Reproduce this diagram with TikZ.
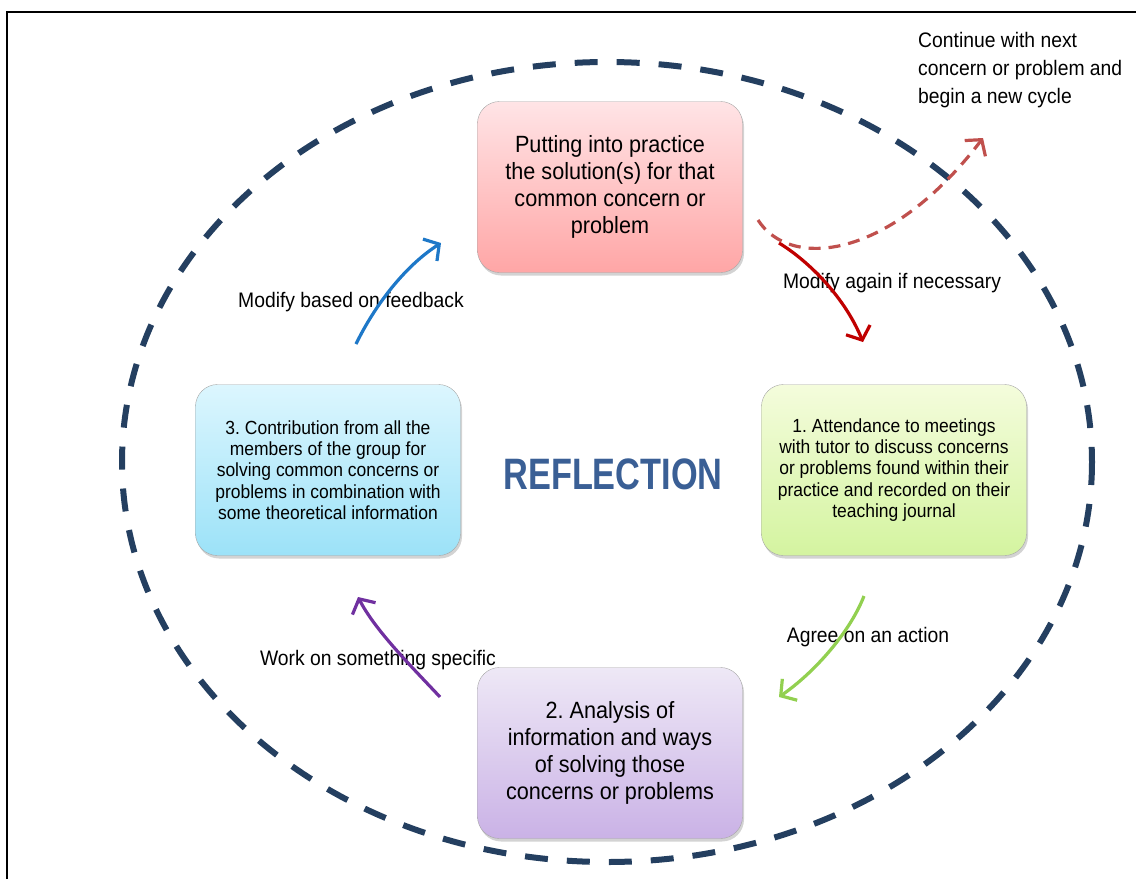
\documentclass[tikz,border=0pt]{standalone}
\usepackage{fontspec}
\setmainfont{Liberation Sans}[FakeStretch=0.92]
\newfontfamily\titlefont{Liberation Sans}[FakeStretch=0.78]
\usetikzlibrary{arrows.meta, shadows}
\frenchspacing

\definecolor{ringblue}{HTML}{243F60}
\definecolor{titleblue}{HTML}{3A5F95}
\definecolor{pinktop}{HTML}{FFE4E6}
\definecolor{pinkbot}{HTML}{FFA6A6}
\definecolor{greentop}{HTML}{F4FCDC}
\definecolor{greenbot}{HTML}{D4F4A0}
\definecolor{lilactop}{HTML}{EEE8F6}
\definecolor{lilacbot}{HTML}{CAB2E6}
\definecolor{cyantop}{HTML}{DCF6FE}
\definecolor{cyanbot}{HTML}{9CE2F8}

\begin{document}
\begin{tikzpicture}[
        x=1pt, y=-1pt,
        box/.style={rectangle, draw=gray!70, rounded corners=22pt, minimum width=265pt, minimum height=171pt, align=center, drop shadow={shadow xshift=1.5pt, shadow yshift=-3pt, opacity=0.35}},
        bigtext/.style={font=\fontsize{23.5}{27}\selectfont},
        smalltext/.style={font=\fontsize{19}{21.3}\selectfont},
        note/.style={inner sep=0pt, align=left, font=\fontsize{21}{28}\selectfont},
        arrow/.style={line width=3.2pt, -{Straight Barb[length=11pt, width=26pt, line width=3.2pt]}}
        ]

        \useasboundingbox (0,0) rectangle (1136,879);
        \draw[line width=2.5pt] (7,879) -- (7,12) -- (1136,12);

        % the reflection cycle
        \draw[ringblue, line width=6pt, dash pattern=on 23pt off 19pt] (607,462) ellipse [x radius=485, y radius=400];

        \node[box, bigtext, top color=pinktop, bottom color=pinkbot] (practice) at (610,187) {Putting into practice\\the solution(s) for that\\common concern or\\problem};
        \node[box, smalltext, top color=greentop, bottom color=greenbot] (meetings) at (894,470) {1. Attendance to meetings\\with tutor to discuss concerns\\or problems found within their\\practice and recorded on their\\teaching journal};
        \node[box, bigtext, top color=lilactop, bottom color=lilacbot] (analysis) at (610,753) {2. Analysis of\\information and ways\\of solving those\\concerns or problems};
        \node[box, smalltext, top color=cyantop, bottom color=cyanbot] (contribution) at (328,470) {3. Contribution from all the\\members of the group for\\solving common concerns or\\problems in combination with\\some theoretical information};

        \node[text=titleblue, font=\titlefont\bfseries\fontsize{44}{44}\selectfont] (reflection) at (613,474) {REFLECTION};

        \node[note, anchor=west] (newcycle) at (918,70) {Continue with next\\concern or problem and\\begin a new cycle};
        \node[note] (feedback) at (351,302) {Modify based on feedback};
        \node[note] (again) at (892,283) {Modify again if necessary};
        \node[note] (agree) at (868,637) {Agree on an action};
        \node[note] (specific) at (378,660) {Work on something specific};

        % arrow ends
        \coordinate (fb-s) at (356,344);
        \coordinate (fb-e) at (441,243);
        \coordinate (ag-s) at (779,243);
        \coordinate (ag-e) at (863,342);
        \coordinate (nc-s) at (758,220);
        \coordinate (nc-e) at (983,138);
        \coordinate (ac-s) at (864,596);
        \coordinate (ac-e) at (779,697);
        \coordinate (sp-s) at (440,697);
        \coordinate (sp-e) at (358,597);

        \draw[arrow, color={rgb,255:red,30;green,120;blue,200}] (fb-s) .. controls (375,305) and (405,266) .. (fb-e);
        \draw[arrow, color={rgb,255:red,192;green,0;blue,0}] (ag-s) .. controls (810,262) and (845,298) .. (ag-e);
        \draw[arrow, color={rgb,255:red,192;green,80;blue,77}, dash pattern=on 12pt off 8pt] (nc-s) .. controls (790,270) and (890,260) .. (nc-e);
        \draw[arrow, color={rgb,255:red,146;green,208;blue,80}] (ac-s) .. controls (850,632) and (815,672) .. (ac-e);
        \draw[arrow, color={rgb,255:red,112;green,48;blue,160}] (sp-s) .. controls (410,665) and (375,630) .. (sp-e);
    \end{tikzpicture}
\end{document}
